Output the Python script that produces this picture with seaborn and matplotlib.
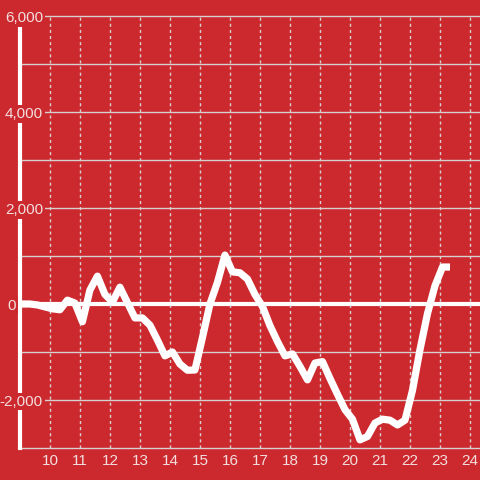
import pandas as pd
import matplotlib.pyplot as plt
import seaborn as sns

bg = '#cc292e'
grid_col = '#d8d0d0'
label_col = '#f3dede'

hours = [9.0, 9.33, 9.58, 9.83, 10.08, 10.33, 10.58, 10.83, 11.08, 11.33, 11.58, 11.83,
         12.08, 12.33, 12.58, 12.83, 13.08, 13.33, 13.58, 13.83, 14.08, 14.33, 14.58, 14.83,
         15.08, 15.33, 15.58, 15.83, 16.08, 16.33, 16.58, 16.83, 17.08, 17.33, 17.58, 17.83,
         18.08, 18.33, 18.58, 18.83, 19.08, 19.33, 19.58, 19.83, 20.08, 20.33, 20.58, 20.83,
         21.08, 21.33, 21.58, 21.83, 22.08, 22.33, 22.58, 22.83, 23.08, 23.33]
values = [0, 0, -20, -60, -100, -120, 80, 20, -370, 290, 580, 200,
          40, 350, 30, -290, -290, -440, -750, -1080, -1000, -1250, -1380, -1375,
          -700, 0, 450, 1020, 670, 650, 520, 200, -50, -450, -780, -1080,
          -1040, -1300, -1580, -1230, -1200, -1550, -1880, -2200, -2400, -2830, -2760, -2480,
          -2400, -2420, -2520, -2420, -1800, -950, -200, 380, 770, 770]

x_ticks = list(range(10, 25))
y_grid = [-3000, -2000, -1000, 0, 1000, 2000, 3000, 4000, 5000, 6000]
y_label_vals = [-2000, 0, 2000, 4000, 6000]
y_labels = ['-2,000', '0', '2,000', '4,000', '6,000']

df = pd.DataFrame({'hour': hours, 'value': values})

sns.set_style('white', {'axes.facecolor': bg, 'figure.facecolor': bg})
plt.rcParams['font.family'] = ['Liberation Sans', 'DejaVu Sans']

fig = plt.figure(figsize=(4.8, 4.8), dpi=100)
ax = fig.add_axes([20 / 480, 32 / 480, 460 / 480, 432 / 480])

# grid drawn by hand so it sits under the line
for v in y_grid:
    ax.axhline(v, color=grid_col, lw=1, zorder=0.5, clip_on=False)
for v in x_ticks:
    ax.axvline(v, color=grid_col, lw=1, ls=(0, (2.2, 2.2)), zorder=0.5)
ax.axhline(0, color='white', lw=3, zorder=1)

sns.lineplot(data=df, x='hour', y='value', color='white', lw=5.2, ax=ax,
             solid_joinstyle='round', solid_capstyle='butt', zorder=2)

ax.set_xlim(9, 24.33)
ax.set_ylim(-3000, 6000)
ax.set_xticks(x_ticks)
ax.set_yticks([])
ax.set_xlabel('')
ax.set_ylabel('')

for s in ['top', 'right', 'bottom']:
    ax.spines[s].set_visible(False)
ax.spines['left'].set_color('white')
ax.spines['left'].set_linewidth(3)

ax.tick_params(axis='x', length=0, pad=4, labelsize=11, labelcolor=label_col)

# y labels sit over the axis line, each on a small red patch
for v, lab in zip(y_label_vals, y_labels):
    dx = -3 if lab == '0' else 16.5
    ax.annotate(lab, xy=(0, v), xycoords=('axes fraction', 'data'),
                xytext=(dx, -1.2), textcoords='offset points',
                ha='right', va='center', fontsize=11, color=label_col, zorder=3,
                annotation_clip=False,
                bbox=dict(boxstyle='square,pad=0.12', fc=bg, ec='none'))

fig.savefig('out.png', dpi=100, facecolor=bg)
